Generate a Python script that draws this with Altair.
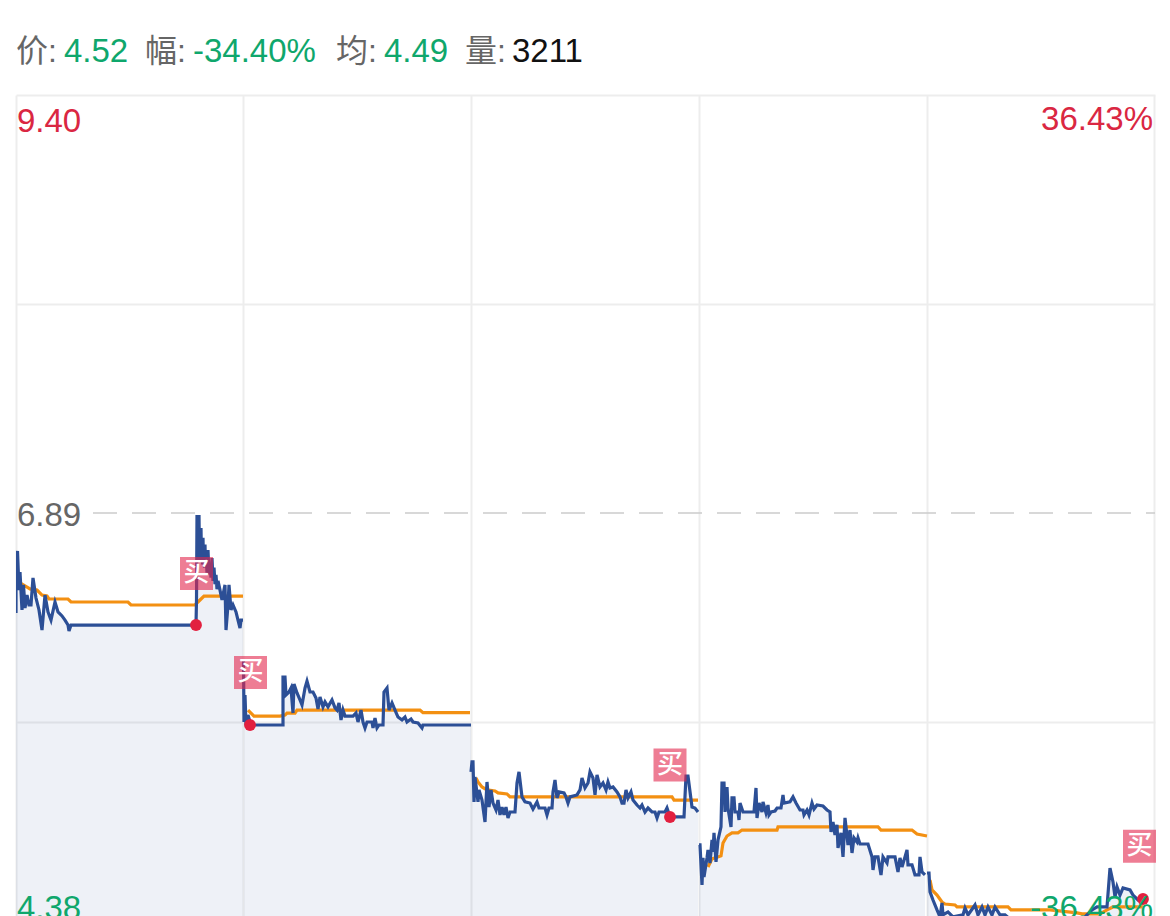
import altair as alt
import pandas as pd

# sample slot on the time axis, one session = 227.8 slots
day1_x = [0,0,1.5,3,4,6,7.5,9,11,13,15,17,20,23,26,29,32,35,39,42,46,49,52,53,55,180,180.5,181,181.5,182,182.5,183,183.5,184,184.5,185,185.5,186,186.5,187,187.5,188,188.5,189,189.5,190,191,192,193,194,195,196,197,198,199,200,201,202,204,206,209,210,212,213,215,217,220,222,224,225,227]
day1_price = [6.287,6.498,6.661,6.425,6.534,6.305,6.456,6.317,6.395,6.335,6.335,6.498,6.377,6.305,6.184,6.395,6.293,6.244,6.353,6.293,6.269,6.244,6.214,6.178,6.214,6.214,6.365,6.878,6.62,6.878,6.60,6.878,6.62,6.80,6.60,6.80,6.60,6.74,6.58,6.74,6.58,6.70,6.56,6.70,6.56,6.667,6.53,6.667,6.52,6.58,6.50,6.618,6.48,6.56,6.46,6.516,6.43,6.48,6.425,6.365,6.456,6.184,6.335,6.456,6.305,6.335,6.293,6.244,6.196,6.244,6.244]
day1_avg_x = [4,9,14,21,26,31,33,52,55,112,115,179,184,188,227]
day1_avg = [6.468,6.45,6.432,6.425,6.395,6.389,6.371,6.371,6.353,6.353,6.335,6.335,6.365,6.389,6.389]

day2_x = [227.5,228,229,230,232,234,234.5,267,267,269,270,273,275,277,278,281,284,286,289,291,294,297,300,302,304,307,309,312,316,319,321,323,325,327,329,337,340,342,345,347,349,351,356,357,359,361,363,367,368,371,373,376,379,382,386,389,391,395,397,402,406,407,455]
day2_price = [6.003,5.629,5.792,5.611,5.671,5.629,5.611,5.611,5.90,5.90,5.792,5.81,5.834,5.683,5.858,5.804,5.762,5.732,5.834,5.876,5.81,5.81,5.774,5.707,5.78,5.72,5.75,5.72,5.762,5.714,5.701,5.744,5.641,5.701,5.665,5.665,5.683,5.629,5.701,5.629,5.593,5.629,5.629,5.593,5.653,5.593,5.611,5.611,5.81,5.834,5.701,5.744,5.701,5.659,5.641,5.659,5.629,5.647,5.629,5.623,5.593,5.611,5.611]
day2_avg_x = [232,238,264,269,271,279,281,404,407,454]
day2_avg = [5.701,5.665,5.665,5.671,5.683,5.683,5.701,5.701,5.685,5.685]

day3_x = [455,456,457,458,459,462,463,466,469,471,473,475,477,480,482,484,486,488,490,492,494,499,501,503,506,509,514,517,521,523,529,531,533,536,537,539,541,543,548,550,552,554,561,564,566,569,572,574,577,579,581,584,587,590,592,594,597,601,604,606,608,610,612,615,617,621,624,626,629,632,636,639,641,643,649,651,654,668,670,672,676,679,682]
day3_price = [5.328,5.388,5.388,5.147,5.297,5.147,5.219,5.158,5.026,5.267,5.116,5.219,5.14,5.098,5.158,5.068,5.116,5.068,5.116,5.05,5.086,5.086,5.261,5.328,5.177,5.147,5.14,5.104,5.147,5.11,5.11,5.068,5.11,5.11,5.207,5.279,5.171,5.207,5.201,5.177,5.14,5.177,5.189,5.219,5.291,5.231,5.261,5.328,5.291,5.189,5.31,5.237,5.261,5.219,5.267,5.231,5.237,5.207,5.177,5.14,5.14,5.219,5.171,5.207,5.158,5.128,5.11,5.128,5.086,5.11,5.086,5.086,5.05,5.086,5.086,5.11,5.056,5.056,5.303,5.303,5.116,5.11,5.086]
day3_avg_x = [460,462,466,471,479,482,491,494,656,658,682]
day3_avg = [5.291,5.267,5.237,5.219,5.213,5.201,5.195,5.177,5.177,5.158,5.158]

day4_x = [683,684,686,687,688,691,692,694,696,697,698,700,702,705,706,708,709,711,712,715,716,718,719,722,723,724,727,738,740,741,743,746,747,750,752,753,755,759,761,765,767,768,774,777,780,784,787,788,791,793,796,798,801,807,811,814,815,817,819,821,822,825,827,829,832,834,836,838,841,842,844,852,856,857,859,862,865,867,871,872,879,882,884,886,889,891,892,896,899,903,904,906,909]
day4_price = [4.887,4.887,4.646,4.809,4.694,4.809,4.857,4.778,4.917,4.845,4.96,4.785,4.917,4.996,5.261,5.261,5.086,5.237,5.11,4.996,5.171,5.171,5.086,5.086,5.038,5.14,5.086,5.086,5.231,5.05,5.14,5.086,5.147,5.08,5.128,5.068,5.086,5.092,5.11,5.11,5.189,5.14,5.147,5.177,5.14,5.098,5.098,5.068,5.098,5.068,5.14,5.104,5.128,5.122,5.098,5.086,4.965,5.026,4.947,5.008,4.869,4.96,4.815,5.05,4.887,4.977,4.839,4.93,4.905,4.93,4.893,4.893,4.815,4.736,4.815,4.815,4.706,4.815,4.778,4.815,4.815,4.724,4.809,4.754,4.815,4.857,4.767,4.767,4.706,4.706,4.815,4.724,4.706]
day4_avg_x = [692,696,705,707,711,716,722,726,761,762,862,865,896,901,911]
day4_avg = [4.754,4.803,4.821,4.899,4.941,4.96,4.96,4.977,4.977,4.996,4.996,4.977,4.977,4.953,4.941]

day5_x = [911,913,914,917,921,924,926,927,932,937,947,949,952,959,962,966,969,972,976,979,984,989,995,1005,1015,1025,1035,1045,1055,1065,1071,1076,1081,1091,1094,1097,1099,1101,1104,1107,1114,1117,1122,1127]
day5_price = [4.718,4.718,4.604,4.555,4.495,4.453,4.537,4.465,4.483,4.453,4.465,4.507,4.465,4.525,4.465,4.513,4.465,4.513,4.465,4.513,4.465,4.465,4.434,4.405,4.42,4.405,4.428,4.41,4.42,4.428,4.465,4.495,4.513,4.513,4.748,4.664,4.574,4.634,4.585,4.628,4.616,4.585,4.555,4.561]
day5_avg_x = [914,916,921,926,929,939,941,992,995,1034,1061,1066,1084,1091,1097,1127]
day5_avg = [4.676,4.616,4.585,4.543,4.531,4.525,4.513,4.513,4.495,4.495,4.477,4.471,4.471,4.495,4.513,4.513]

buy_x = [180,234,654,1127]
buy_price = [6.214,5.611,5.056,4.561]
badge_x = [180.5,234.5,654,1123.5]
badge_price = [6.525,5.928,5.37,4.879]

session_ticks = [0,226.8,454.8,682.8,910.8,1138]
price_ticks = [9.412,8.152,5.63]
pre_close = 6.89

RED = "#da2742"
GREEN = "#0fa76c"
GRAY = "#666666"
BLUE = "#2c4f96"
ORANGE = "#f39012"
FONT = "Liberation Sans, Noto Sans CJK SC"

def frame(days):
    rows = []
    for d, (xs, ys) in enumerate(days):
        rows += [{"x": a, "p": b, "day": d} for a, b in zip(xs, ys)]
    return pd.DataFrame(rows)

price_df = frame([(day1_x, day1_price), (day2_x, day2_price), (day3_x, day3_price), (day4_x, day4_price), (day5_x, day5_price)])
avg_df = frame([(day1_avg_x, day1_avg), (day2_avg_x, day2_avg), (day3_avg_x, day3_avg), (day4_avg_x, day4_avg), (day5_avg_x, day5_avg)])
buy_df = pd.DataFrame({"x": buy_x, "p": buy_price})
badge_df = pd.DataFrame({"x": badge_x, "p": badge_price, "t": ["买"] * 4})

xs = alt.Scale(domain=[0, 1139], nice=False, zero=False)
ys = alt.Scale(domain=[4.38, 9.412], nice=False, zero=False)
X = alt.X("x:Q", scale=xs, axis=alt.Axis(values=session_ticks, grid=True, gridColor="#ededed", gridWidth=2, labels=False, ticks=False, domain=False, title=None))
Y = alt.Y("p:Q", scale=ys, axis=alt.Axis(values=price_ticks, grid=True, gridColor="#ededed", gridWidth=2, labels=False, ticks=False, domain=False, title=None))

area = alt.Chart(price_df).mark_area(color=BLUE, opacity=0.08, clip=True).encode(
    x=X, y=Y, y2=alt.Y2(datum=4.38), detail="day:N")
dash = alt.Chart(pd.DataFrame({"x": [77], "x2": [1139], "p": [pre_close]})).mark_rule(
    color="#cccccc", strokeWidth=1.5, strokeDash=[24, 15]).encode(
    x=alt.X("x:Q", scale=xs), x2="x2:Q", y=alt.Y("p:Q", scale=ys))
avg = alt.Chart(avg_df).mark_line(color=ORANGE, strokeWidth=3.2, clip=True).encode(
    x=alt.X("x:Q", scale=xs), y=alt.Y("p:Q", scale=ys), detail="day:N")
line = alt.Chart(price_df).mark_line(color=BLUE, strokeWidth=3.2, clip=True).encode(
    x=alt.X("x:Q", scale=xs), y=alt.Y("p:Q", scale=ys), detail="day:N")
dots = alt.Chart(buy_df).mark_circle(color="#e2203f", size=140, opacity=1).encode(
    x=alt.X("x:Q", scale=xs), y=alt.Y("p:Q", scale=ys))
badges = alt.Chart(badge_df).mark_square(color="#e2264d", size=1089, opacity=0.6, strokeWidth=0).encode(
    x=alt.X("x:Q", scale=xs), y=alt.Y("p:Q", scale=ys))
badge_text = alt.Chart(badge_df).mark_text(color="white", fontSize=26, fontWeight=500, font="Noto Sans CJK SC", baseline="middle", align="center").encode(
    x=alt.X("x:Q", scale=xs), y=alt.Y("p:Q", scale=ys), text="t:N")

def label(s, px, py, color, size=33, align="left"):
    return alt.Chart(alt.Data(values=[{"t": s}])).mark_text(
        color=color, fontSize=size, font=FONT, align=align, baseline="middle").encode(
        text="t:N", x=alt.value(px), y=alt.value(py))

texts = [
    label("价:", 0, -43, GRAY, 32), label("4.52", 48, -43, GREEN),
    label("幅:", 129, -43, GRAY, 32), label("-34.40%", 177, -43, GREEN),
    label("均:", 320, -43, GRAY, 32), label("4.49", 368, -43, GREEN),
    label("量:", 449, -43, GRAY, 32), label("3211", 496, -43, "#111111"),
    label("9.40", 1, 27, RED), label("36.43%", 1137, 25, RED, align="right"),
    label("6.89", 1, 421, GRAY),
    label("4.38", 1, 814, GREEN), label("-36.43%", 1137, 814, GREEN, align="right"),
]

chart = alt.layer(area, dash, avg, line, badges, badge_text, dots, *texts).resolve_scale(
    x="shared", y="shared"
).properties(
    width=1139, height=834,
    autosize=alt.AutoSizeParams(type="none"),
    padding={"left": 8, "top": 87, "right": 7, "bottom": 0},
    background="white",
).configure_view(stroke=None)

chart.save("out.html", embed_options={"renderer": "svg", "actions": False})
